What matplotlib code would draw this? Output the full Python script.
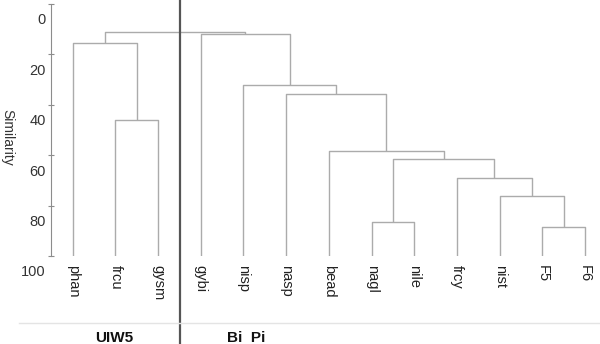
''' dendrogram of sample similarity, two site groups
'''
import matplotlib
import matplotlib.pyplot as plt
import matplotlib.transforms as mtransforms
from matplotlib.lines import Line2D

matplotlib.use('Agg')

plt.rcParams['font.family'] = ['Liberation Sans', 'DejaVu Sans']

# leaves in plotting order
leaves = ['phan', 'frcu', 'gysm', 'gybi', 'nisp', 'nasp', 'bead',
          'nagl', 'nile', 'frcy', 'nist', 'F5', 'F6']

# merges: ids 0-12 are leaves, merge k creates cluster 13 + k
merge_left = [11, 10, 9, 7, 16, 6, 5, 4, 3, 1, 0, 23]
merge_right = [12, 13, 14, 8, 15, 17, 18, 19, 20, 2, 22, 21]
merge_sim = [88.4, 76.2, 68.9, 86.5, 61.5, 58.2, 35.8, 32.0, 12.0, 46.0, 15.6, 11.0]

y_ticks = [0, 20, 40, 60, 80, 100]
groups = ['UIW5', 'Bi  Pi']

W, H, DPI = 600, 344, 100
fig = plt.figure(figsize=(W / DPI, H / DPI), dpi=DPI)

# axes placed in pixels: spine at x=51, sim 0 at y=4, sim 100 at y=256
ax = fig.add_axes([51 / W, (H - 256) / H, 1 - 51 / W, 252 / H])
ax.set_xlim(-0.508, 12.35)
ax.set_ylim(100, 0)

line_kw = dict(color='#ababab', lw=1.0, solid_capstyle='butt')
xpos = {i: float(i) for i in range(len(leaves))}
ypos = {i: 100.0 for i in range(len(leaves))}
for k, (a, b, s) in enumerate(zip(merge_left, merge_right, merge_sim)):
    ax.plot([xpos[a], xpos[a], xpos[b], xpos[b]],
            [ypos[a], s, s, ypos[b]], **line_kw)
    xpos[13 + k] = (xpos[a] + xpos[b]) / 2
    ypos[13 + k] = s

for i, name in enumerate(leaves):
    ax.annotate(name, (i, 100), xytext=(0, -6.5), textcoords='offset points',
                rotation=270, ha='center', va='top', fontsize=10.5, color='#222222')

for side in ['top', 'right', 'bottom']:
    ax.spines[side].set_visible(False)
ax.spines['left'].set_color('#8c8c8c')
ax.set_xticks([])
ax.set_yticks(y_ticks)
ax.set_yticklabels([str(v) for v in y_ticks])
ax.tick_params(axis='y', direction='inout', length=4.5, width=0.8, color='#8c8c8c',
               pad=1.5, labelsize=10.5, labelcolor='#333333')
shift = mtransforms.ScaledTranslation(0, -15 / DPI, fig.dpi_scale_trans)
for lbl in ax.get_yticklabels():
    lbl.set_transform(lbl.get_transform() + shift)

fig.text(7 / W, 1 - 137 / H, 'Similarity', rotation=270, ha='center', va='center',
         fontsize=10, color='#333333')

# group divider and baseline
fig.add_artist(Line2D([179.5 / W, 179.5 / W], [0, 1], color='#555555', lw=1.6))
fig.add_artist(Line2D([19 / W, 1], [1 - 322.5 / H] * 2, color='#e4e4e4', lw=1.0))

fig.text(114 / W, 1 - 338 / H, groups[0], ha='center', va='center',
         fontsize=11, fontweight='bold', color='#111111')
fig.text(246 / W, 1 - 338 / H, groups[1], ha='center', va='center',
         fontsize=11, fontweight='bold', color='#111111')

fig.savefig('out.png', dpi=DPI)
plt.close()
